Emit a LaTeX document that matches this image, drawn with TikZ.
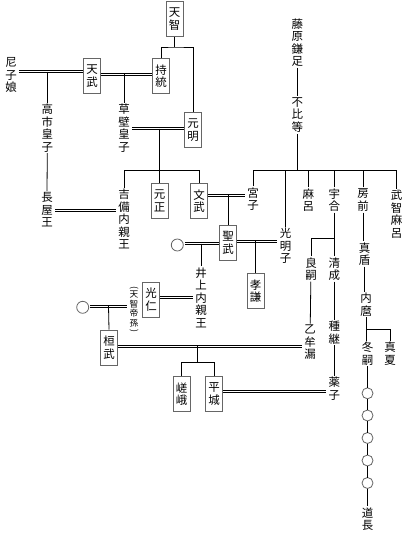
\documentclass[tikz,border=0pt]{standalone}
\usepackage{fontspec}
\newfontfamily\cjk{Noto Sans CJK JP}
\begin{document}
\begin{tikzpicture}[x=1bp,y=-1bp,
  jp/.style={font=\cjk\fontsize{11.5}{12.5}\selectfont, align=center, inner ysep=0pt, inner xsep=2.5bp},
  txt/.style={jp, minimum height=#1*12.5bp},
  kbox/.style={jp, draw=black!60, line width=0.8bp, minimum width=17bp, minimum height=35bp, inner xsep=0pt},
  note/.style={font=\cjk\fontsize{8.7}{9.8}\selectfont, align=center, inner ysep=0pt, inner xsep=2bp},
  circ/.style={circle, draw=black!60, line width=0.8bp, minimum size=12bp, inner sep=0pt, outer sep=1.5bp},
  ccirc/.style={circ, minimum size=11bp, outer sep=0pt},
  ln/.style={line width=0.8bp},
  dbl/.style={draw=none, preaction={draw=black, line width=0.8bp, transform canvas={yshift=1bp}}, postaction={draw=black, line width=0.8bp, transform canvas={yshift=-1bp}}}]
\useasboundingbox (0,0) rectangle (407,534);
\fill[white] (0,0) rectangle (407,534);
% boxes
\node[kbox] (tenji) at (174.5,19) {天\\智};
\node[kbox] (jito) at (161,76) {持\\統};
\node[kbox] (tenmu) at (92,76) {天\\武};
\node[kbox] (genmei) at (193,130) {元\\明};
\node[kbox] (gensho) at (159.5,201) {元\\正};
\node[kbox] (monmu) at (199,201) {文\\武};
\node[kbox] (shomu) at (228,243) {聖\\武};
\node[kbox] (koken) at (255.5,291) {孝\\謙};
\node[kbox] (konin) at (151,299.5) {光\\仁};
\node[kbox] (kanmu) at (109,347.5) {桓\\武};
\node[kbox] (saga) at (181.7,394) {嵯\\峨};
\node[kbox] (heizei) at (214,394) {平\\城};
% labels
\node[txt=3] (amako) at (11,75) {尼\\子\\娘};
\node[txt=4] (takechi) at (47.3,128) {高\\市\\皇\\子};
\node[txt=4] (kusakabe) at (124,128) {草\\壁\\皇\\子};
\node[txt=3] (nagaya) at (47,210) {長\\屋\\王};
\node[txt=5] (kibi) at (124,219) {吉\\備\\内\\親\\王};
\node[txt=2] (miyako) at (253,199) {宮\\子};
\node[txt=3] (komyo) at (285.7,246) {光\\明\\子};
\node[txt=5] (inoue) at (201,297.5) {井\\上\\内\\親\\王};
\node[txt=4] (kamatari) at (297.3,42.5) {藤\\原\\鎌\\足};
\node[txt=3] (fuhito) at (297.3,115) {不\\比\\等};
\node[txt=2] (maro) at (308.3,200) {麻\\呂};
\node[txt=2] (umakai) at (334.3,200) {宇\\合};
\node[txt=2] (fusasaki) at (363,200) {房\\前};
\node[txt=4] (muchimaro) at (396.7,214) {武\\智\\麻\\呂};
\node[txt=2] (yoshitsugu) at (311,269) {良\\嗣};
\node[txt=2] (kiyonari) at (334.3,269) {清\\成};
\node[txt=2] (matate) at (364.5,254) {真\\盾};
\node[txt=2] (uchimaro) at (366,304.5) {内\\麿};
\node[txt=2] (fuyutsugu) at (367.5,353.5) {冬\\嗣};
\node[txt=2] (manatsu) at (390,353.5) {真\\夏};
\node[txt=3] (otomuro) at (310,342.5) {乙\\牟\\漏};
\node[txt=2] (tanetsugu) at (334.3,332.5) {種\\継};
\node[txt=2] (kusuko) at (334.3,388.5) {薬\\子};
\node[txt=2] (michinaga) at (367.5,519) {道\\長};
\node[note] (teison) at (134,310) {\rotatebox[origin=c]{-90}{(}\\[-2.5bp]天\\智\\帝\\孫\\[-2.5bp]\rotatebox[origin=c]{-90}{)}};
% circles
\node[circ] (c1) at (177.3,245) {};
\node[circ] (c2) at (82.7,307.3) {};
\node[ccirc] (o1) at (367.5,393.3) {};
\node[ccirc] (o2) at (367.5,415.5) {};
\node[ccirc] (o3) at (367.5,438) {};
\node[ccirc] (o4) at (367.5,460.5) {};
\node[ccirc] (o5) at (367.5,483) {};
% coordinates
\coordinate (j1) at (174.5,47);
\coordinate (m1) at (47.3,71.7);
\coordinate (m2) at (124,74.3);
\coordinate (m3) at (159.5,128.7);
\coordinate (b1) at (159.5,170.7);
\coordinate (m4) at (80,210.3);
\coordinate (m5) at (228,195.3);
\coordinate (m6) at (201,243.7);
\coordinate (m7) at (255.5,241);
\coordinate (b2) at (297.3,170.3);
\coordinate (b3) at (334.3,238.3);
\coordinate (b4) at (366,329.5);
\coordinate (ma) at (108.5,306);
\coordinate (mb) at (180,297.7);
\coordinate (mc) at (197.3,346);
\coordinate (s1) at (197.3,362.7);
\coordinate (md) at (270,391);
% imperial line
\draw[ln] (tenji.south) -- (j1);
\draw[ln] (jito.north) |- (j1) -| (genmei.north);
\draw[dbl] (amako.east |- m1) -- (tenmu.west |- m1);
\draw[ln] (m1) -- (takechi.north);
\draw[ln] (takechi.south) -- (nagaya.north);
\draw[dbl] (tenmu.east |- m2) -- (jito.west |- m2);
\draw[ln] (m2) -- (kusakabe.north);
\draw[dbl] (kusakabe.east |- m3) -- (genmei.west |- m3);
\draw[ln] (m3) -- (b1);
\draw[ln] (kibi.north) |- (b1) -| (monmu.north);
\draw[ln] (b1) -- (gensho.north);
\draw[dbl] (nagaya.east |- m4) -- (kibi.west |- m4);
\draw[dbl] (monmu.east |- m5) -- (miyako.west |- m5);
\draw[ln] (m5) -- (shomu.north);
\draw[dbl] (c1.east |- m6) -- (shomu.west |- m6);
\draw[ln] (m6) -- (inoue.north);
\draw[dbl] (shomu.east |- m7) -- (komyo.west |- m7);
\draw[ln] (m7) -- (koken.north);
\draw[dbl] (c2.east |- ma) -- (teison.west |- ma);
\draw[ln] (ma) -- (kanmu.north);
\draw[dbl] (konin.east |- mb) -- (inoue.west |- mb);
\draw[dbl] (kanmu.east |- mc) -- (otomuro.west |- mc);
\draw[ln] (mc) -- (s1);
\draw[ln] (saga.north) |- (s1) -| (heizei.north);
\draw[dbl] (heizei.east |- md) -- (kusuko.west |- md);
% Fujiwara
\draw[ln] (kamatari) -- (fuhito);
\draw[ln] (fuhito.south) -- (b2);
\draw[ln] (miyako.north) |- (b2) -| (muchimaro.north);
\draw[ln] (komyo.north) -- (komyo.north |- b2);
\draw[ln] (maro.north) -- (maro.north |- b2);
\draw[ln] (umakai.north) -- (umakai.north |- b2);
\draw[ln] (fusasaki.north) -- (fusasaki.north |- b2);
\draw[ln] (umakai) -- (kiyonari);
\draw[ln] (yoshitsugu.north) |- (b3);
\draw[ln] (yoshitsugu) -- (otomuro);
\draw[ln] (kiyonari) -- (tanetsugu);
\draw[ln] (tanetsugu) -- (kusuko);
\draw[ln] (fusasaki.south) -- (fusasaki.south |- matate.north);
\draw[ln] (matate.south) -- (matate.south |- uchimaro.north);
\draw[ln] (uchimaro.south) -- (uchimaro.south |- fuyutsugu.north);
\draw[ln] (manatsu.north) |- (b4);
\draw[ln] (fuyutsugu) -- (o1);
\draw[ln] (o1) -- (o2);
\draw[ln] (o2) -- (o3);
\draw[ln] (o3) -- (o4);
\draw[ln] (o4) -- (o5);
\draw[ln] (o5) -- (michinaga);
\end{tikzpicture}
\end{document}
